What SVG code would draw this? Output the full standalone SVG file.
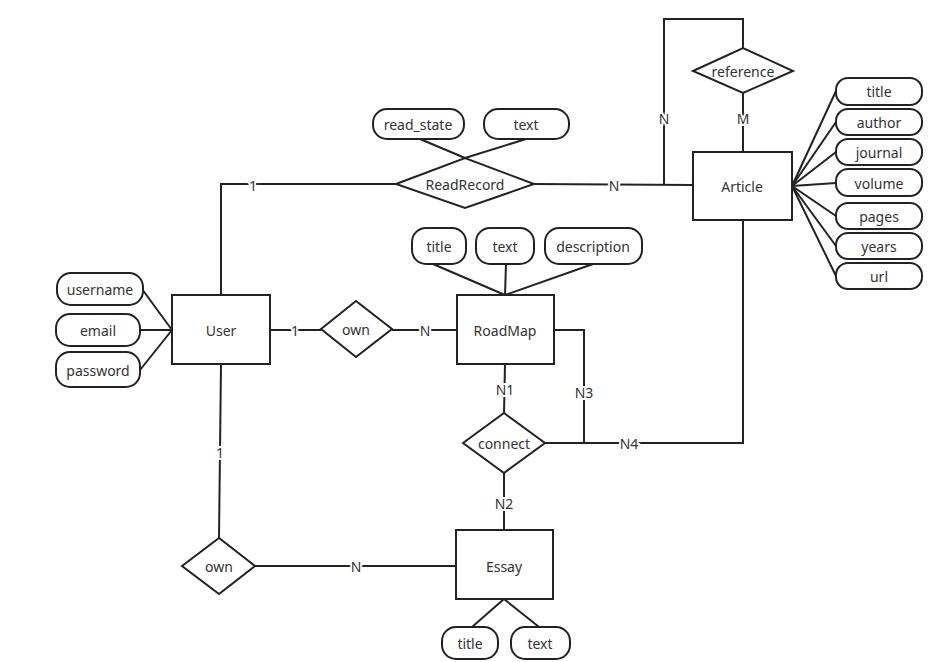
<svg xmlns="http://www.w3.org/2000/svg" width="942" height="662" viewBox="0 0 942 662">
<style>
.e{fill:#fff;stroke:#222;stroke-width:2}
.a{fill:#fff;stroke:#222;stroke-width:2}
.r{fill:#fff;stroke:#222;stroke-width:2}
.c line,.c polyline{stroke:#222;stroke-width:2;fill:none}
text{font-family:"Noto Sans","Open Sans","DejaVu Sans",sans-serif;font-size:14px;fill:#333;text-anchor:middle;dominant-baseline:central}
.l{paint-order:stroke;stroke:#fff;stroke-width:4px}
</style>
<rect width="942" height="662" fill="#fff"/>
<g id="connectors" class="c">
<line x1="142" y1="289" x2="172" y2="330"/>
<line x1="140" y1="330" x2="172" y2="330"/>
<line x1="140" y1="370" x2="172" y2="330"/>
<polyline points="221,295 221,184 397,184"/>
<line x1="420" y1="139" x2="465" y2="158"/>
<line x1="526" y1="139" x2="465" y2="158"/>
<line x1="534" y1="184" x2="693" y2="185"/>
<polyline points="743,48 743,19 664,19 664,185"/>
<line x1="743" y1="93" x2="743" y2="152"/>
<line x1="792" y1="186" x2="836" y2="91"/>
<line x1="792" y1="186" x2="836" y2="122"/>
<line x1="792" y1="186" x2="836" y2="152"/>
<line x1="792" y1="186" x2="836" y2="183"/>
<line x1="792" y1="186" x2="836" y2="216"/>
<line x1="792" y1="186" x2="836" y2="246"/>
<line x1="792" y1="186" x2="836" y2="276"/>
<line x1="270" y1="330" x2="321" y2="330"/>
<line x1="392" y1="330" x2="457" y2="330"/>
<line x1="433" y1="264" x2="505" y2="295"/>
<line x1="506" y1="264" x2="505" y2="295"/>
<line x1="593" y1="264" x2="505" y2="295"/>
<line x1="505" y1="364" x2="504" y2="413"/>
<polyline points="554,330 584,330 584,443"/>
<polyline points="545,443 743,443 743,220"/>
<line x1="504" y1="473" x2="504" y2="530"/>
<line x1="472" y1="627" x2="504" y2="599"/>
<line x1="539" y1="627" x2="504" y2="599"/>
<line x1="221" y1="364" x2="219" y2="538"/>
<line x1="255" y1="566" x2="456" y2="566"/>
<text class="l" x="253" y="185">1</text>
<text class="l" x="614" y="185">N</text>
<text class="l" x="664" y="118">N</text>
<text class="l" x="743" y="118">M</text>
<text class="l" x="295" y="330">1</text>
<text class="l" x="425" y="330">N</text>
<text class="l" x="505" y="389">N1</text>
<text class="l" x="584" y="392">N3</text>
<text class="l" x="629" y="443">N4</text>
<text class="l" x="504" y="503">N2</text>
<text class="l" x="220" y="452">1</text>
<text class="l" x="356" y="566">N</text>
</g>
<g id="User"><rect class="e" x="172" y="295" width="98" height="69"/><text x="221" y="330">User</text></g>
<g id="username"><rect class="a" x="57" y="273" width="86" height="32" rx="14"/><text x="100" y="289">username</text></g>
<g id="email"><rect class="a" x="56" y="314" width="84" height="32" rx="14"/><text x="98" y="330">email</text></g>
<g id="password"><rect class="a" x="56" y="352" width="84" height="35" rx="14"/><text x="98" y="370">password</text></g>
<g id="ReadRecord"><polygon class="r" points="396,184 465,158 534,184 465,208"/><text x="465" y="184">ReadRecord</text></g>
<g id="read_state"><rect class="a" x="373" y="109" width="91" height="30" rx="14"/><text x="418" y="124">read_state</text></g>
<g id="rr_text"><rect class="a" x="484" y="109" width="85" height="30" rx="14"/><text x="526" y="124">text</text></g>
<g id="reference"><polygon class="r" points="693,71 743,48 793,71 743,93"/><text x="743" y="71">reference</text></g>
<g id="Article"><rect class="e" x="693" y="152" width="99" height="68"/><text x="742" y="186">Article</text></g>
<g id="a_title"><rect class="a" x="836" y="78" width="86" height="27" rx="12"/><text x="879" y="91">title</text></g>
<g id="a_author"><rect class="a" x="836" y="109" width="86" height="26" rx="12"/><text x="879" y="122">author</text></g>
<g id="a_journal"><rect class="a" x="836" y="139" width="86" height="26" rx="12"/><text x="879" y="152">journal</text></g>
<g id="a_volume"><rect class="a" x="836" y="169" width="86" height="27" rx="12"/><text x="879" y="183">volume</text></g>
<g id="a_pages"><rect class="a" x="836" y="203" width="86" height="26" rx="12"/><text x="879" y="216">pages</text></g>
<g id="a_years"><rect class="a" x="836" y="233" width="86" height="26" rx="12"/><text x="879" y="246">years</text></g>
<g id="a_url"><rect class="a" x="836" y="263" width="86" height="26" rx="12"/><text x="879" y="276">url</text></g>
<g id="own1"><polygon class="r" points="321,329 356,301 392,329 356,357"/><text x="356" y="329">own</text></g>
<g id="RoadMap"><rect class="e" x="457" y="295" width="97" height="69"/><text x="505" y="330">RoadMap</text></g>
<g id="rm_title"><rect class="a" x="412" y="228" width="54" height="36" rx="14"/><text x="439" y="246">title</text></g>
<g id="rm_text"><rect class="a" x="476" y="228" width="58" height="36" rx="14"/><text x="505" y="246">text</text></g>
<g id="rm_description"><rect class="a" x="545" y="228" width="97" height="36" rx="14"/><text x="593" y="246">description</text></g>
<g id="connect"><polygon class="r" points="463,443 504,413 545,443 504,473"/><text x="504" y="443">connect</text></g>
<g id="Essay"><rect class="e" x="456" y="530" width="97" height="69"/><text x="504" y="566">Essay</text></g>
<g id="e_title"><rect class="a" x="442" y="627" width="56" height="32" rx="14"/><text x="470" y="643">title</text></g>
<g id="e_text"><rect class="a" x="511" y="627" width="59" height="32" rx="14"/><text x="540" y="643">text</text></g>
<g id="own2"><polygon class="r" points="182,566 219,538 255,566 219,594"/><text x="219" y="566">own</text></g>
</svg>
